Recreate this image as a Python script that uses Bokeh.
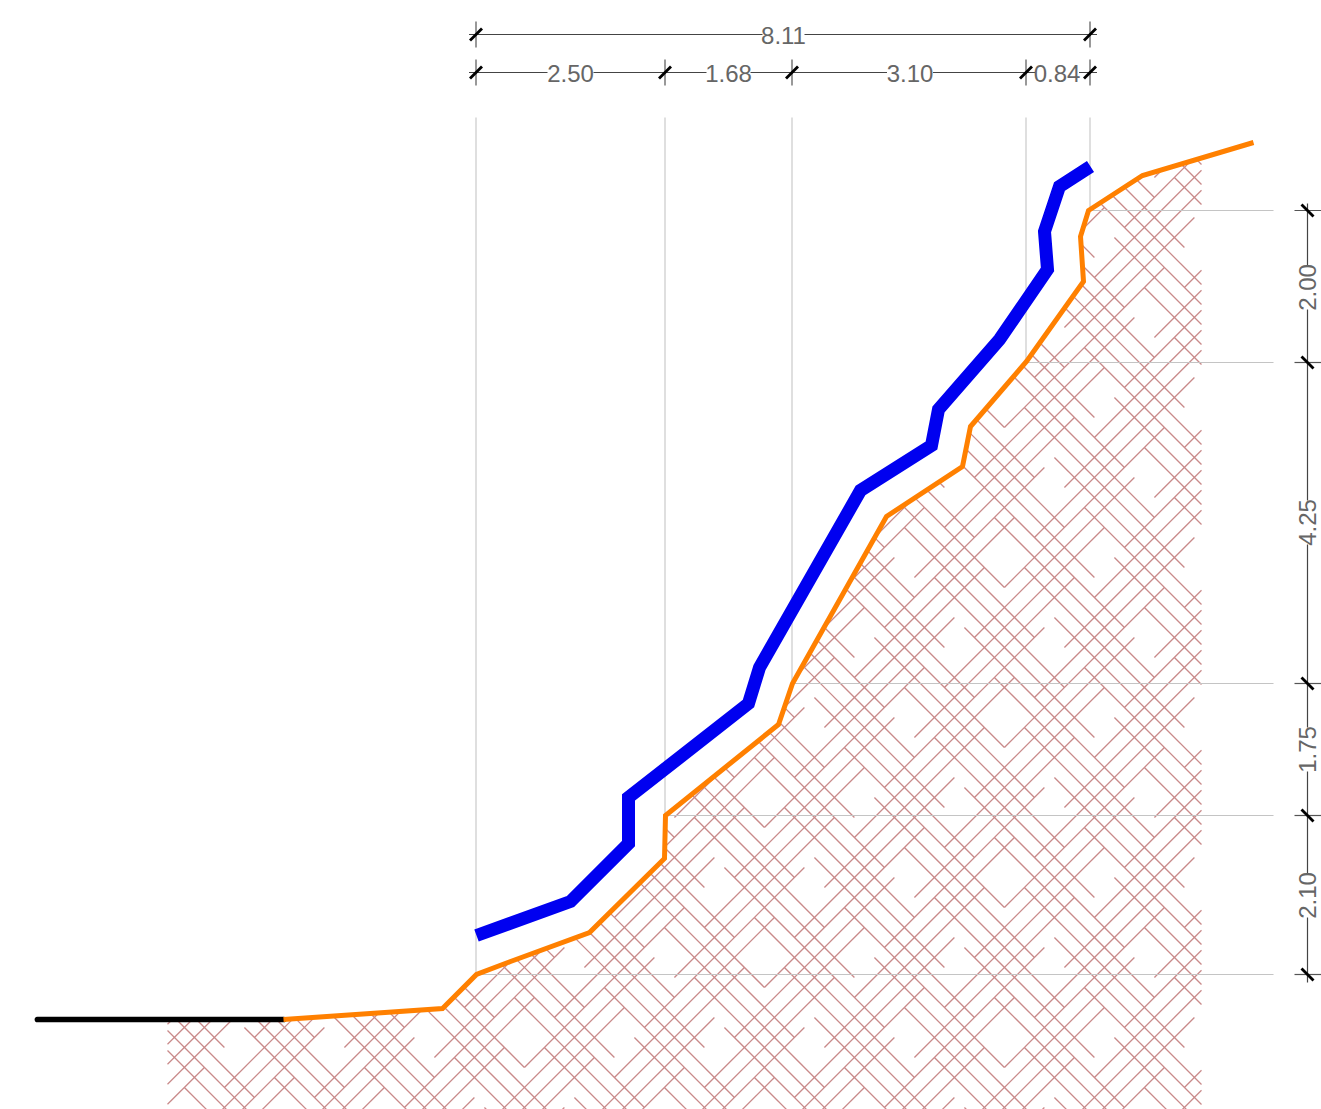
import math
from bokeh.plotting import figure
from bokeh.models import Range1d
from bokeh.core.properties import value
from bokeh.embed import file_html
from bokeh.resources import INLINE

# All lengths are drawing units of the section (1 unit = 1 picture pixel).
W, H = 1321, 1109

ground_x = [283, 442, 476, 510, 589, 664, 665, 778, 792, 886, 962, 970, 1026, 1083, 1080, 1088, 1142, 1253]
ground_y = [1019, 1008, 974, 961, 932, 858, 815, 724, 683, 516, 466, 426, 361, 281, 236, 210, 175, 142]

lining_x = [476, 570, 628, 628, 748, 759, 860, 931, 938, 999, 1047, 1044, 1059, 1090]
lining_y = [935, 901, 843, 797, 703, 667, 490, 445, 409, 339, 269, 231, 186, 166]

road_x = [37, 283]
road_y = [1019, 1019]

hatch_left, hatch_right, hatch_bottom = 167, 1201, 1125

stations = [475.5, 664.5, 791.5, 1025.5, 1089.5]
levels = [210, 362, 683, 815, 974]
station_foot = [974, 815, 683, 361, 210]
level_start = [1088, 1026, 792, 665, 476]
guide_top = 117
guide_end = 1273

top_dim_y = 34
sub_dim_y = 72
side_dim_x = 1307

h_labels = ["8.11", "2.50", "1.68", "3.10", "0.84"]
h_label_x = [783, 570, 728, 909.5, 1056.5]
h_label_y = [35, 73, 73, 73, 73]
h_label_w = [42, 46, 44, 46, 44]

v_labels = ["2.00", "4.25", "1.75", "2.10"]
v_label_y = [287, 522, 749, 895]

# hatch pattern: two families of dashes at 45 degrees
PITCH = 20.0
U0, V0 = 1610.83, 216.97
DASH, REPEAT = 16, 24


def inside(px, py, poly):
    c = False
    n = len(poly)
    for a in range(n):
        x1, y1 = poly[a]
        x2, y2 = poly[(a + 1) % n]
        if (y1 > py) != (y2 > py) and px < x1 + (py - y1) * (x2 - x1) / (y2 - y1):
            c = not c
    return c


def clip(x0, y0, x1, y1, poly):
    ts = [0.0, 1.0]
    dx, dy = x1 - x0, y1 - y0
    n = len(poly)
    for a in range(n):
        ax, ay = poly[a]
        bx, by = poly[(a + 1) % n]
        ex, ey = bx - ax, by - ay
        d = dx * ey - dy * ex
        if abs(d) < 1e-9:
            continue
        t = ((ax - x0) * ey - (ay - y0) * ex) / d
        s = ((ax - x0) * dy - (ay - y0) * dx) / d
        if 0 < t < 1 and 0 <= s <= 1:
            ts.append(t)
    ts.sort()
    out = []
    for t0, t1 in zip(ts, ts[1:]):
        if t1 - t0 < 1e-6:
            continue
        tm = (t0 + t1) / 2
        if inside(x0 + dx * tm, y0 + dy * tm, poly):
            out.append((x0 + dx * t0, y0 + dy * t0, x0 + dx * t1, y0 + dy * t1))
    return out


poly = [(hatch_left, ground_y[0])] + list(zip(ground_x[:-1], ground_y[:-1]))
poly += [(hatch_right, 157), (hatch_right, hatch_bottom), (hatch_left, hatch_bottom)]

hx0, hy0, hx1, hy1 = [], [], [], []


def add(seg):
    for s in seg:
        hx0.append(s[0]); hy0.append(s[1]); hx1.append(s[2]); hy1.append(s[3])


def xy(i, j):
    U = U0 + PITCH * i
    V = V0 + PITCH * j
    return (U + V) / 2, (U - V) / 2


for i in range(-70, 50):
    for k in range(-40, 40):
        a = 6 - 4 * i + REPEAT * k
        p0, p1 = xy(i, a), xy(i, a + DASH)
        if max(p0[0], p1[0]) < hatch_left or min(p0[0], p1[0]) > hatch_right:
            continue
        if max(p0[1], p1[1]) < 100 or min(p0[1], p1[1]) > hatch_bottom:
            continue
        add(clip(p0[0], p0[1], p1[0], p1[1], poly))
for j in range(-70, 70):
    for k in range(-40, 40):
        a = 23 - 4 * j + REPEAT * k
        p0, p1 = xy(a, j), xy(a + DASH, j)
        if max(p0[0], p1[0]) < hatch_left or min(p0[0], p1[0]) > hatch_right:
            continue
        if max(p0[1], p1[1]) < 100 or min(p0[1], p1[1]) > hatch_bottom:
            continue
        add(clip(p0[0], p0[1], p1[0], p1[1], poly))

p = figure(width=W, height=H, output_backend="svg", toolbar_location=None,
           x_range=Range1d(0, W), y_range=Range1d(H, 0), min_border=0)
p.axis.visible = False
p.grid.visible = False
p.outline_line_color = None
p.background_fill_color = "white"

p.segment(hx0, hy0, hx1, hy1, line_color="#c98a8a", line_width=1.3)

# guides
p.segment(stations, [guide_top] * 5, stations, station_foot, line_color="#d4d4d4", line_width=1.5)
p.segment(level_start, levels, [guide_end] * 5, levels, line_color="#c4c4c4", line_width=1.2)

# section lines
p.line(lining_x, lining_y, line_color="#0000f0", line_width=13, line_join="miter", line_cap="butt")
p.line(road_x, road_y, line_color="black", line_width=5.7, line_cap="round")
p.line(ground_x, ground_y, line_color="#ff8000", line_width=5, line_join="miter", line_cap="butt")

# dimension lines
DIM = "#444444"
p.segment([stations[0] - 7, stations[0] - 7], [top_dim_y, sub_dim_y],
          [stations[-1] + 7, stations[-1] + 7], [top_dim_y, sub_dim_y], line_color=DIM, line_width=1.2)
p.segment([side_dim_x], [levels[0] - 7], [side_dim_x], [levels[-1] + 8], line_color=DIM, line_width=1.2)

tx = [stations[0], stations[-1]] + stations
ty = [top_dim_y, top_dim_y] + [sub_dim_y] * 5
p.segment(tx, [y - 13 for y in ty], tx, [y + 13 for y in ty], line_color="#555555", line_width=1.2)
p.segment([x - 6 for x in tx], [y + 6 for y in ty], [x + 6 for x in tx], [y - 6 for y in ty],
          line_color="black", line_width=2.8)
p.segment([side_dim_x - 13] * 5, levels, [side_dim_x + 14] * 5, levels, line_color="#555555", line_width=1.2)
p.segment([side_dim_x - 6] * 5, [y - 6 for y in levels], [side_dim_x + 6] * 5, [y + 6 for y in levels],
          line_color="black", line_width=2.8)

# label gaps and labels
p.rect(h_label_x, h_label_y, width=h_label_w, height=[20] * 5, fill_color="white", line_color=None)
p.rect([side_dim_x] * 4, v_label_y, width=[20] * 4, height=[44] * 4, fill_color="white", line_color=None)

FONT = value("Liberation Sans")
p.text(h_label_x, h_label_y, text=h_labels, text_font=FONT, text_font_size="24px", text_color="#666666",
       text_align="center", text_baseline="middle")
p.text([side_dim_x] * 4, v_label_y, text=v_labels, angle=math.pi / 2, text_font=FONT, text_font_size="24px",
       text_color="#666666", text_align="center", text_baseline="middle")

open("out.html", "w").write(file_html(p, INLINE))
